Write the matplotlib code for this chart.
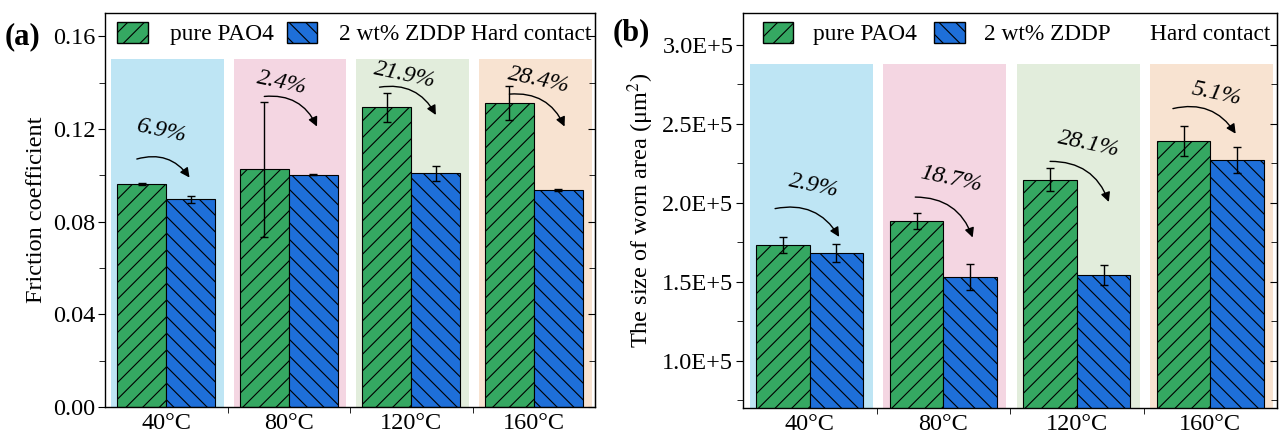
import matplotlib
matplotlib.use('Agg')
import matplotlib.pyplot as plt
from matplotlib.ticker import MultipleLocator, FuncFormatter
from matplotlib.patches import Patch
import numpy as np

plt.rcParams['font.family'] = ['Liberation Serif', 'DejaVu Serif']
plt.rcParams['mathtext.fontset'] = 'stix'
plt.rcParams['hatch.linewidth'] = 0.8

temps = ['40°C', '80°C', '120°C', '160°C']
bg_colors = ['#bee5f4', '#f4d6e2', '#e2eddc', '#f8e3d1']
green = '#35a862'
blue = '#1e6fd9'

# (a) friction coefficient
cof_pao = [0.0963, 0.1025, 0.1294, 0.1311]
cof_pao_err = [0.0004, 0.029, 0.0063, 0.0072]
cof_zddp = [0.0897, 0.1002, 0.1008, 0.0937]
cof_zddp_err = [0.0015, 0.0003, 0.0033, 0.0004]
cof_drop = ['6.9%', '2.4%', '21.9%', '28.4%']

# (b) worn area, um^2
area_pao = [1.732e5, 1.884e5, 2.145e5, 2.389e5]
area_pao_err = [0.052e5, 0.049e5, 0.074e5, 0.093e5]
area_zddp = [1.682e5, 1.530e5, 1.541e5, 2.269e5]
area_zddp_err = [0.059e5, 0.080e5, 0.064e5, 0.081e5]
area_drop = ['2.9%', '18.7%', '28.1%', '5.1%']

# arrow / label placement: (tail dx, tail y, head dx, head y, text dx, text y)
cof_arrows = [(-0.24, 0.107, 0.19, 0.099, -0.04, 0.119),
              (-0.20, 0.134, 0.23, 0.121, -0.06, 0.140),
              (-0.26, 0.138, 0.20, 0.126, -0.05, 0.143),
              (-0.20, 0.135, 0.25, 0.121, 0.04, 0.141)]
area_arrows = [(-0.26, 1.962e5, 0.22, 1.783e5, 0.03, 2.103e5),
               (-0.21, 2.035e5, 0.22, 1.779e5, 0.06, 2.150e5),
               (-0.20, 2.261e5, 0.24, 2.004e5, 0.09, 2.367e5),
               (-0.28, 2.595e5, 0.19, 2.436e5, 0.05, 2.690e5)]

fs = 17.5
fs_leg = 16.8
x = np.arange(len(temps))
w = 0.4

fig = plt.figure(figsize=(12.8, 4.41), dpi=100)
ax1 = fig.add_axes([0.082, 0.0771, 0.383, 0.8934])
ax2 = fig.add_axes([0.5805, 0.0748, 0.4172, 0.8957])


def draw(ax, pao, pao_err, zddp, zddp_err, drops, arrows, ylim, bg_top,
         major, minor, fmt, ylabel, leg_x, hard_x, colsp, hpad):
    ax.set_xlim(-0.5, 3.5)
    ax.set_ylim(*ylim)
    ax.bar(x + 0.01, bg_top - ylim[0], width=0.92, bottom=ylim[0],
           color=bg_colors, zorder=0)
    ek = dict(ecolor='k', elinewidth=1, capsize=3, capthick=1)
    ax.bar(x - w / 2, pao, w, yerr=pao_err, color=green, edgecolor='k',
           linewidth=0.8, hatch='//', error_kw=ek, zorder=2)
    ax.bar(x + w / 2, zddp, w, yerr=zddp_err, color=blue, edgecolor='k',
           linewidth=0.8, hatch='\\\\', error_kw=ek, zorder=2)

    for i, (tdx, ty, hdx, hy, sdx, sy) in enumerate(arrows):
        ax.annotate('', xy=(i + hdx, hy), xytext=(i + tdx, ty),
                    arrowprops=dict(arrowstyle='-|>', color='k', lw=1,
                                    connectionstyle='arc3,rad=-0.35',
                                    shrinkA=0, shrinkB=0, mutation_scale=14),
                    zorder=3)
        ax.text(i + sdx, sy, drops[i], ha='center', va='center',
                style='italic', rotation=-12, fontsize=fs, zorder=3)

    ax.set_xticks(x)
    ax.set_xticklabels(temps, fontsize=fs)
    ax.tick_params(axis='x', which='major', length=0, pad=4)
    ax.set_xticks([0.5, 1.5, 2.5], minor=True)
    ax.tick_params(axis='x', which='minor', length=4, direction='out')

    ax.yaxis.set_major_locator(MultipleLocator(major))
    ax.yaxis.set_minor_locator(MultipleLocator(minor))
    ax.yaxis.set_major_formatter(FuncFormatter(fmt))
    ax.tick_params(axis='y', which='major', length=5, direction='out',
                   labelsize=fs, pad=2)
    ax.tick_params(axis='y', which='minor', length=4, direction='out')
    ax.set_ylabel(ylabel, fontsize=fs, labelpad=4)

    sec = ax.secondary_yaxis('right')
    sec.yaxis.set_major_locator(MultipleLocator(major))
    sec.yaxis.set_minor_locator(MultipleLocator(minor))
    sec.tick_params(axis='y', which='major', length=5, direction='in',
                    labelright=False)
    sec.tick_params(axis='y', which='minor', length=4, direction='in')

    for s in ax.spines.values():
        s.set_linewidth(1.0)

    handles = [Patch(facecolor=green, edgecolor='k', hatch='//', label='pure PAO4'),
               Patch(facecolor=blue, edgecolor='k', hatch='\\\\', label='2 wt% ZDDP')]
    ax.legend(handles=handles, ncol=2, loc='upper left', bbox_to_anchor=(leg_x, 0.99),
              frameon=False, fontsize=fs_leg, handlelength=1.3, handleheight=1.05,
              handletextpad=hpad, columnspacing=colsp, borderaxespad=0.0,
              borderpad=0.2)
    ax.text(hard_x, 0.945, 'Hard contact', ha='right', va='center',
            transform=ax.transAxes, fontsize=fs_leg)


draw(ax1, cof_pao, cof_pao_err, cof_zddp, cof_zddp_err, cof_drop, cof_arrows,
     (0, 0.17), 0.15, 0.04, 0.02, lambda v, p: f'{v:.2f}',
     'Friction coefficient', 0.016, 0.992, 0.55, 0.95)
draw(ax2, area_pao, area_pao_err, area_zddp, area_zddp_err, area_drop, area_arrows,
     (0.7e5, 3.2e5), 2.88e5, 0.5e5, 0.25e5, lambda v, p: f'{v / 1e5:.1f}E+5',
     'The size of worn area (μm$^2$)', 0.028, 0.987, 0.75, 0.85)

fig.text(0.004, 0.916, '(a)', fontsize=22, fontweight='bold', va='center')
fig.text(0.479, 0.925, '(b)', fontsize=22, fontweight='bold', va='center')

fig.savefig('out.png', dpi=100)
